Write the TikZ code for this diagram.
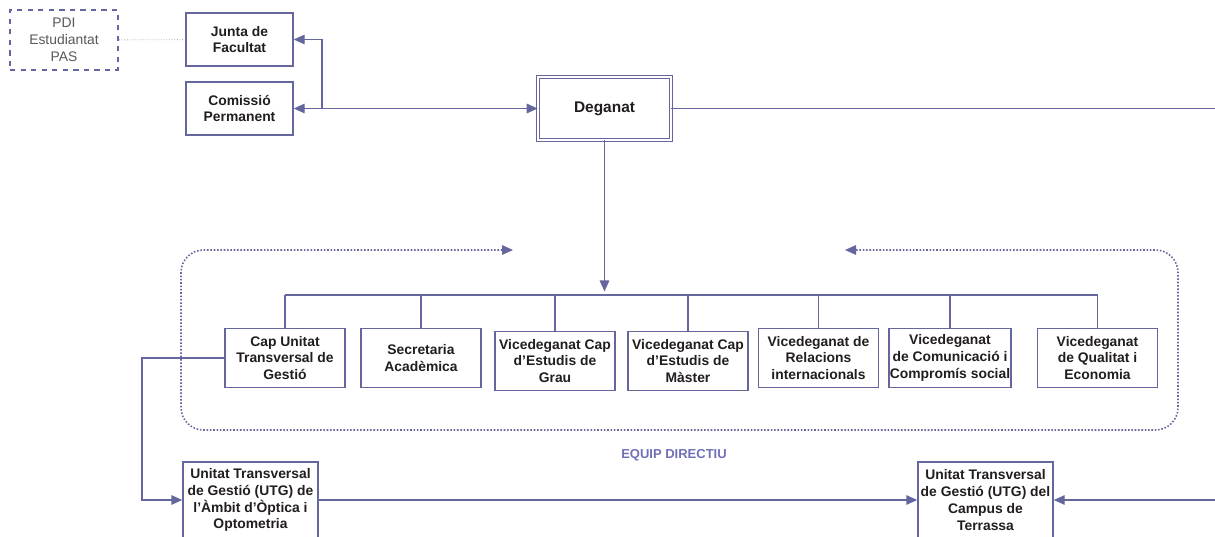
\documentclass[tikz,border=0pt]{standalone}
\usepackage{fontspec}
\setmainfont{Liberation Sans}
\usepackage{tikz}
\usetikzlibrary{arrows.meta, positioning}
\definecolor{lineC}{RGB}{102,102,158}
\definecolor{textC}{RGB}{34,30,30}
\definecolor{equipC}{RGB}{112,112,182}

\begin{document}
\begin{tikzpicture}
[color=lineC, line width=0.8pt,
->/.style={arrows={-Triangle[length=2.2mm,width=1.9mm]}},
<->/.style={arrows={Triangle[length=2.2mm,width=1.9mm]-Triangle[length=2.2mm,width=1.9mm]}},
   unitB/.style={shape=rectangle, draw=lineC, line width=0.8pt, fill=white, text=textC,
     font=\bfseries\fontsize{7.9}{9.6}\selectfont, align=center},
   topB/.style={unitB, minimum width=2.14cm, minimum height=1.06cm},
   rowB/.style={unitB, minimum width=2.4cm, minimum height=1.18cm, inner xsep=0.5pt, inner ysep=1pt},
   utgB/.style={unitB, minimum width=2.7cm, minimum height=1.52cm, inner xsep=0.5pt, inner ysep=1pt}]
\useasboundingbox (0,0) rectangle (24.3,-10.74);
% top level
\node[unitB, dashed, line width=1.1pt, text=black!65, font=\fontsize{7.9}{9.6}\selectfont,
  minimum width=2.16cm, minimum height=1.2cm] (PDI) at (1.28,-0.8) {PDI\\Estudiantat\\PAS};
\node[topB] (JF) at (4.79,-0.79) {Junta de\\Facultat};
\node[topB] (CP) at (4.79,-2.17) {Comissió\\Permanent};
\node[unitB, double, double distance=1.1pt, line width=0.6pt, font=\bfseries\fontsize{8.8}{10}\selectfont,
  minimum width=2.65cm, minimum height=1.25cm] (DG) at (12.09,-2.17) {Deganat};
\draw [black!30, densely dotted, line width=0.5pt] (PDI) -- (JF);
\draw [<->] (CP) -- (DG);
\coordinate (JCm) at (6.44,-2.17);
\draw [->] (JCm) |- (JF.east);
\coordinate (Dright) at (24.3,-2.17);
\draw (DG) -- (Dright);
% equip directiu
\node[rowB] (CUTG) at (5.70,-7.16) {Cap Unitat\\Transversal de\\Gestió};
\node[rowB] (SA) at (8.42,-7.16) {Secretaria\\Acadèmica};
\node[rowB] (VCG) at (11.10,-7.22) {Vicedeganat Cap\\d’Estudis de\\Grau};
\node[rowB] (VCM) at (13.76,-7.22) {Vicedeganat Cap\\d’Estudis de\\Màster};
\node[rowB] (VRI) at (16.37,-7.16) {Vicedeganat de\\Relacions\\internacionals};
\node[rowB] (VCC) at (19.00,-7.16) {Vicedeganat\\de Comunicació i\\Compromís social};
\node[rowB] (VQE) at (21.95,-7.16) {Vicedeganat\\de Qualitat i\\Economia};
\coordinate (bus) at (0,-5.9);
\draw (CUTG.north |- bus) -- (VQE.north |- bus);
\foreach \n in {CUTG,SA,VCG,VCM,VRI,VCC,VQE}
  \draw (\n.north) -- (\n.north |- bus);
\draw [->, shorten >=2pt] (DG) -- (DG |- bus);
% dotted frame
\coordinate (fL) at (10.26,-5.0);
\coordinate (fR) at (16.90,-5.0);
\draw [<->, densely dotted, line width=0.9pt, rounded corners=0.45cm]
  (fL) -- (3.62,-5.0) -- (3.62,-8.6) -- (23.56,-8.6) -- (23.56,-5.0) -- (fR);
\node[text=equipC, font=\bfseries\fontsize{7.4}{9}\selectfont] (ED) at (13.48,-9.1) {EQUIP DIRECTIU};
% unitats transversals
\node[utgB] (UTGO) at (5.01,-10.0) {Unitat Transversal\\de Gestió (UTG) de\\l'Àmbit d'Òptica i\\Optometria};
\node[utgB] (UTGT) at (19.71,-10.0) {Unitat Transversal\\de Gestió (UTG) del\\Campus de\\Terrassa};
\coordinate (Lturn) at (2.84,-7.16);
\draw [->] (CUTG.west) -- (Lturn) |- (UTGO.west);
\draw [->] (UTGO) -- (UTGT);
\coordinate (Rin) at (24.3,-10.0);
\draw [->] (Rin) -- (UTGT);
\end{tikzpicture}
\end{document}
